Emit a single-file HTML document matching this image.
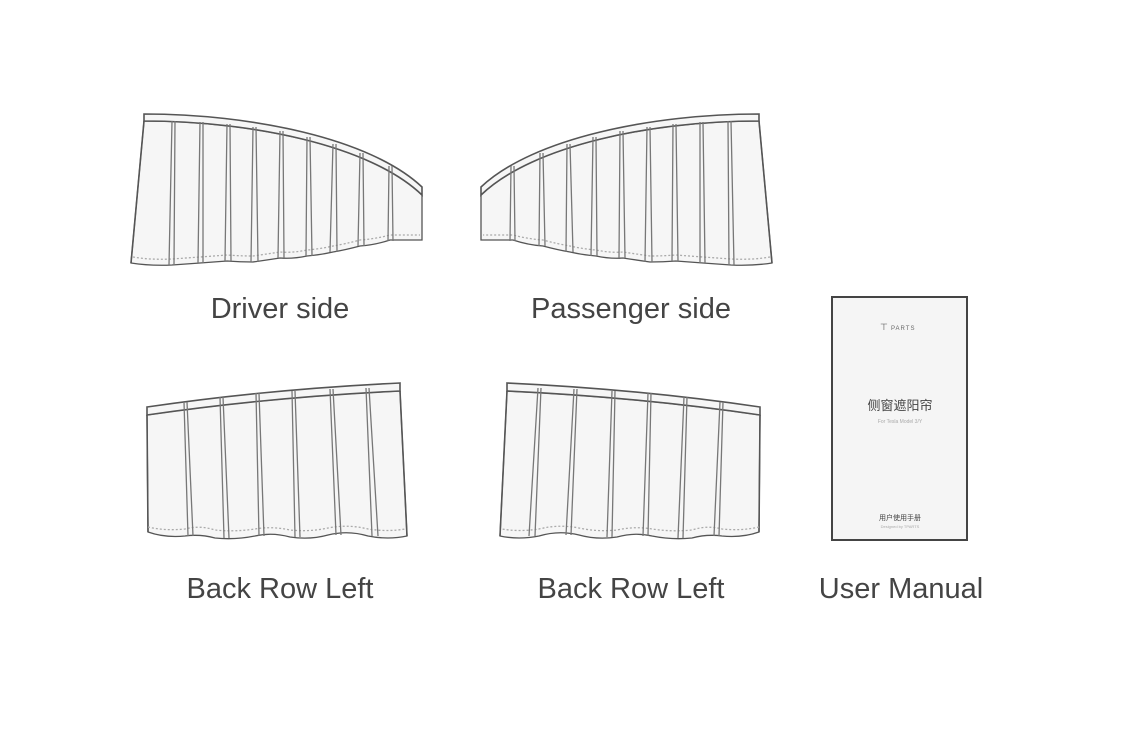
<!DOCTYPE html>
<html><head><meta charset="utf-8"><style>
html,body{margin:0;padding:0;background:#fff;}
svg{display:block}
text{font-family:"Liberation Sans","Noto Sans CJK SC",sans-serif;}
</style></head><body>
<svg width="1122" height="729" viewBox="0 0 1122 729" xmlns="http://www.w3.org/2000/svg">
<defs>
<g id="drv" fill="none" stroke="#555" stroke-width="1.3">
  <path fill="#f6f6f6" d="M144,121 C250,121 370,145 422,195 L422,240 L390,240 Q375,245 360,246 Q345,250 333,252 Q320,255 307,256 Q293,259 280,258 Q267,260 253,262 Q240,262 227,261 Q214,262 200,263 Q186,264 172,265 Q150,266 131,263 Z"/>
  <path fill="#f6f6f6" stroke-width="1.6" d="M144,114 C250,114 370,138 422,187 L422,195 C370,145 250,121 144,121 Z"/>
  <path stroke-width="1.6" d="M144,121 L131,263"/>
  <path stroke="#aaa" stroke-dasharray="2,2" d="M133,257 Q150,260 172,259 Q186,258 200,257 Q214,256 227,255 Q240,256 253,256 Q267,254 280,252 Q293,253 307,250 Q320,249 333,246 Q345,244 360,240 Q375,239 390,235 L420,235"/>
  <g stroke="#777">
    <path d="M172,121 L169,265 M175,121 L174,265"/>
    <path d="M200,122 L198,263 M203,122 L203,263"/>
    <path d="M227,124 L225,261 M230,124 L231,261"/>
    <path d="M253,127 L251,262 M256,127 L258,262"/>
    <path d="M280,131 L278,258 M283,131 L284,258"/>
    <path d="M307,137 L306,256 M310,137 L312,256"/>
    <path d="M333,144 L330,252 M336,144 L337,252"/>
    <path d="M360,153 L358,246 M363,153 L364,246"/>
    <path d="M389,166 L388,241 M392,166 L393,241"/>
  </g>
</g>
<g id="back" fill="none" stroke="#555" stroke-width="1.3">
  <path fill="#f6f6f6" d="M147,415 Q270,397 400,391 L407,536 Q388,540 368,536 Q348,530 328,535 Q310,540 290,537 Q272,532 255,536 Q235,540 215,538 Q200,534 185,536 Q165,538 148,532 Z"/>
  <path fill="#f6f6f6" stroke-width="1.6" d="M147,407 Q270,389 400,383 L400,391 Q270,397 147,415 Z"/>
  <path stroke-width="1.6" d="M147,415 L148,532 M400,391 L407,536"/>
  <path stroke="#aaa" stroke-dasharray="2,2" d="M148,527 Q165,531 185,529 Q200,525 215,530 Q235,532 255,529 Q272,526 290,530 Q310,532 328,528 Q348,524 368,529 Q388,532 405,529"/>
  <g stroke="#777">
    <path d="M184,402 L188,536 M187,402 L193,536"/>
    <path d="M220,397 L224,538 M223,397 L229,538"/>
    <path d="M256,393 L259,536 M259,393 L264,536"/>
    <path d="M292,391 L295,537 M295,391 L300,537"/>
    <path d="M330,389 L336,535 M333,389 L341,535"/>
    <path d="M366,388 L372,536 M369,388 L378,536"/>
  </g>
</g>
</defs>
<use href="#drv"/>
<use href="#drv" transform="translate(903,0) scale(-1,1)"/>
<use href="#back"/>
<use href="#back" transform="translate(907,0) scale(-1,1)"/>

<rect x="832" y="297" width="135" height="243" fill="#f5f5f5" stroke="#444" stroke-width="2"/>
<text x="880" y="330" font-size="9" fill="#555">⊤</text>
<text x="891" y="330" font-size="6" fill="#666" letter-spacing="1">PARTS</text>
<text x="900" y="410" font-size="13" fill="#444" text-anchor="middle">侧窗遮阳帘</text>
<text x="900" y="423" font-size="5" fill="#aaa" text-anchor="middle">For Tesla Model 3/Y</text>
<text x="900" y="520" font-size="7" fill="#444" text-anchor="middle">用户使用手册</text>
<text x="900" y="528" font-size="4" fill="#aaa" text-anchor="middle">Designed by TPARTS</text>

<g font-size="29" fill="#444" text-anchor="middle">
<text x="280" y="318">Driver side</text>
<text x="631" y="318">Passenger side</text>
<text x="280" y="598">Back Row Left</text>
<text x="631" y="598">Back Row Left</text>
<text x="901" y="598">User Manual</text>
</g>
</svg>
</body></html>
